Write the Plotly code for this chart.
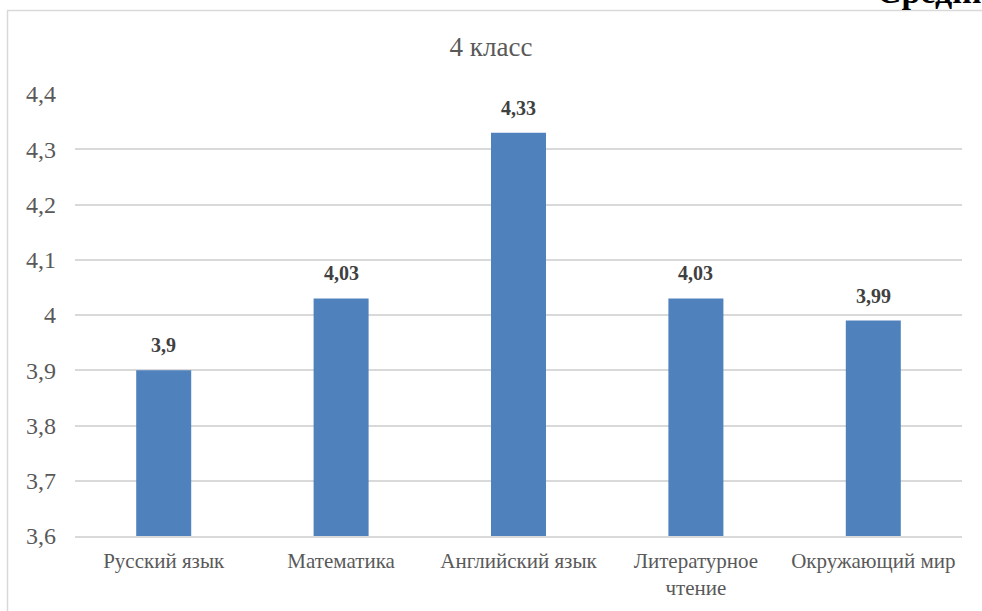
import plotly.graph_objects as go

categories = ["Русский язык", "Математика", "Английский язык", "Литературное<br>чтение", "Окружающий мир"]
values = [3.9, 4.03, 4.33, 4.03, 3.99]
tick_vals = [3.6, 3.7, 3.8, 3.9, 4.0, 4.1, 4.2, 4.3, 4.4]
tick_text = ["3,6", "3,7", "3,8", "3,9", "4", "4,1", "4,2", "4,3", "4,4"]
labels = [str(v).replace(".", ",") for v in values]

SERIF = "Liberation Serif"
GRAY = "#595959"

W, H = 982, 611
L, R, T, B = 75, 962, 94, 536  # plot area in pixels
PH = B - T
PW = R - L

def py(pix):
    return (B - pix) / PH

def px(pix):
    return (pix - L) / PW

fig = go.Figure()
fig.add_trace(go.Bar(
    x=categories, y=values, marker=dict(color="#4f81bd", line=dict(width=0)),
    width=0.31, hoverinfo="skip",
))

annotations = []
for c, v, t in zip(categories, values, labels):
    annotations.append(dict(x=c, y=v, xref="x", yref="y", text="<b>" + t + "</b>",
                            showarrow=False, yanchor="bottom", yshift=12,
                            font=dict(family=SERIF, size=20, color="#404040")))
annotations.append(dict(x=px(875), y=py(12), xref="paper", yref="paper", text="<b>Средний балл</b>",
                        showarrow=False, xanchor="left", yanchor="bottom",
                        font=dict(family=SERIF, size=34, color="#000000")))

fig.update_layout(
    width=W, height=H,
    margin=dict(l=L, r=W - R, t=T, b=H - B, pad=0),
    paper_bgcolor="white", plot_bgcolor="white",
    showlegend=False,
    title=dict(text="4 класс", x=0.5, xanchor="center", y=1 - 47 / H, yanchor="middle",
               font=dict(family=SERIF, size=27, color=GRAY)),
    xaxis=dict(showgrid=False, showline=True, linecolor="#d9d9d9", linewidth=1.5,
               ticks="", ticklabelstandoff=5, tickfont=dict(family=SERIF, size=21, color=GRAY)),
    yaxis=dict(range=[3.6, 4.4], tickvals=tick_vals, ticktext=tick_text,
               showgrid=True, gridcolor="#d9d9d9", gridwidth=1.5, zeroline=False,
               showline=False, ticks="", ticklabelstandoff=18,
               tickfont=dict(family=SERIF, size=24, color=GRAY)),
    annotations=annotations,
    shapes=[dict(type="rect", xref="paper", yref="paper",
                 x0=px(7.5), x1=px(1000), y0=py(640), y1=py(10.5),
                 line=dict(color="#d9d9d9", width=1.5), fillcolor="rgba(0,0,0,0)", layer="below")],
)
fig.write_html("out.html", config={"displayModeBar": False},
               post_script="document.body.style.margin='0';")
